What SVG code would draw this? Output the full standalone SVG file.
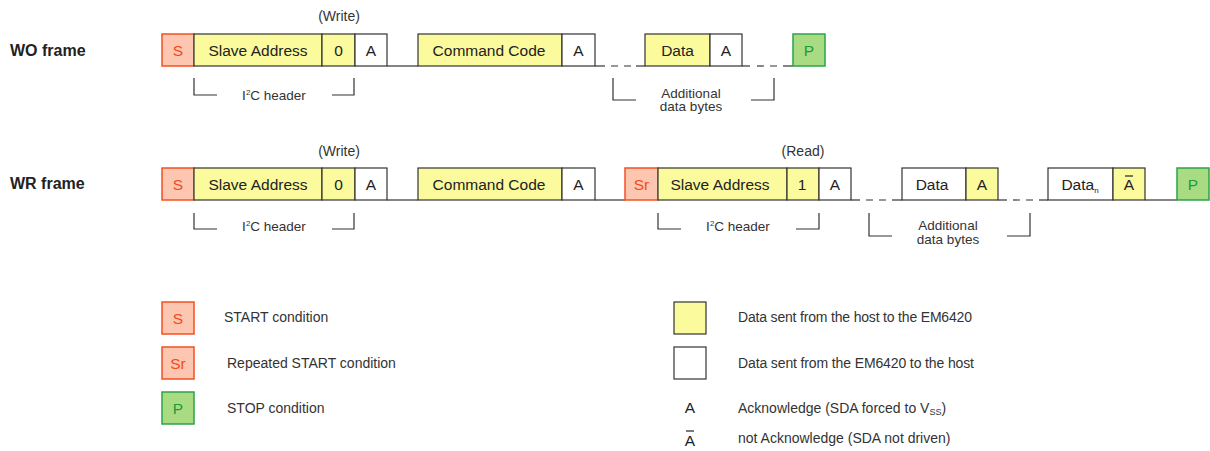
<svg xmlns="http://www.w3.org/2000/svg" width="1210" height="451" viewBox="0 0 1210 451">
<style>
text{font-family:"Liberation Sans",Arial,sans-serif;fill:#222}
.bt{font-size:15.5px;text-anchor:middle}
.lbl{font-size:16px;font-weight:bold;fill:#222}
.note{font-size:13.5px;text-anchor:middle;fill:#333}
.leg{font-size:14px;fill:#333}
.y{fill:#fbfa9c;stroke:#333;stroke-width:1.2}
.w{fill:#fff;stroke:#333;stroke-width:1.2}
.s{fill:#fcc6b0;stroke:#f4501f;stroke-width:1.5}
.p{fill:#a9dc82;stroke:#2aa44a;stroke-width:1.5}
.st{fill:#f24a18}
.pt{fill:#1e9a3c}
.ln{stroke:#333;stroke-width:1.2;fill:none}
.ds{stroke:#333;stroke-width:1.2;fill:none;stroke-dasharray:7 6}
.bar{stroke:#222;stroke-width:1.2}
</style>

<!-- Row labels -->
<g id="label-wo"><text class="lbl" x="10" y="56">WO frame</text></g>
<g id="label-wr"><text class="lbl" x="10" y="189">WR frame</text></g>

<!-- Connectors: bus lines and brackets -->
<g id="connectors">
  <!-- WO -->
  <line class="ln" x1="387" y1="66" x2="418" y2="66"/>
  <line class="ln" x1="595" y1="66" x2="605" y2="66"/>
  <line class="ds" x1="611" y1="66" x2="636" y2="66"/>
  <line class="ln" x1="636" y1="66" x2="645" y2="66"/>
  <line class="ln" x1="742" y1="66" x2="750" y2="66"/>
  <line class="ds" x1="757" y1="66" x2="782" y2="66"/>
  <line class="ln" x1="783" y1="66" x2="793" y2="66"/>
  <path class="ln" d="M194,78 V95 H217 M332,95 H354 V78"/>
  <path class="ln" d="M613,78 V100 H636 M751,100 H774 V78"/>
  <!-- WR -->
  <line class="ln" x1="387" y1="200" x2="418" y2="200"/>
  <line class="ln" x1="595" y1="200" x2="625" y2="200"/>
  <line class="ln" x1="851" y1="200" x2="860" y2="200"/>
  <line class="ds" x1="866" y1="200" x2="891" y2="200"/>
  <line class="ln" x1="892" y1="200" x2="902" y2="200"/>
  <line class="ln" x1="998" y1="200" x2="1007" y2="200"/>
  <line class="ds" x1="1013" y1="200" x2="1038" y2="200"/>
  <line class="ln" x1="1039" y1="200" x2="1048" y2="200"/>
  <line class="ln" x1="1145" y1="200" x2="1177" y2="200"/>
  <path class="ln" d="M194,213 V229 H217 M332,229 H354 V213"/>
  <path class="ln" d="M658,213 V229 H681 M796,229 H819 V213"/>
  <path class="ln" d="M869,213 V236 H892 M1007,236 H1030 V213"/>
</g>

<!-- WO frame nodes -->
<g id="wo-s"><rect class="s" x="162" y="34" width="32" height="32"/><text class="bt st" x="178" y="56">S</text></g>
<g id="wo-addr"><rect class="y" x="194" y="34" width="128" height="32"/><text class="bt" x="258" y="56">Slave Address</text></g>
<g id="wo-rw"><rect class="y" x="322" y="34" width="33" height="32"/><text class="bt" x="338.5" y="56">0</text></g>
<g id="wo-a1"><rect class="w" x="355" y="34" width="32" height="32"/><text class="bt" x="371" y="56">A</text></g>
<g id="wo-cmd"><rect class="y" x="418" y="34" width="144" height="32"/><text class="bt" x="489" y="56">Command Code</text></g>
<g id="wo-a2"><rect class="w" x="562" y="34" width="33" height="32"/><text class="bt" x="578.5" y="56">A</text></g>
<g id="wo-data"><rect class="y" x="645" y="34" width="65" height="32"/><text class="bt" x="677.5" y="56">Data</text></g>
<g id="wo-a3"><rect class="w" x="710" y="34" width="32" height="32"/><text class="bt" x="726" y="56">A</text></g>
<g id="wo-p"><rect class="p" x="793" y="34" width="32" height="32"/><text class="bt pt" x="809" y="56">P</text></g>
<g id="wo-notes">
  <text class="note" x="339" y="21" style="font-size:14px">(Write)</text>
  <text class="note" x="274" y="100">I<tspan dy="-5" font-size="8">2</tspan><tspan dy="5">C header</tspan></text>
  <text class="note" x="691" y="98">Additional</text>
  <text class="note" x="691" y="111">data bytes</text>
</g>

<!-- WR frame nodes -->
<g id="wr-s"><rect class="s" x="162" y="168" width="32" height="32"/><text class="bt st" x="178" y="190">S</text></g>
<g id="wr-addr"><rect class="y" x="194" y="168" width="128" height="32"/><text class="bt" x="258" y="190">Slave Address</text></g>
<g id="wr-rw"><rect class="y" x="322" y="168" width="33" height="32"/><text class="bt" x="338.5" y="190">0</text></g>
<g id="wr-a1"><rect class="w" x="355" y="168" width="32" height="32"/><text class="bt" x="371" y="190">A</text></g>
<g id="wr-cmd"><rect class="y" x="418" y="168" width="144" height="32"/><text class="bt" x="489" y="190">Command Code</text></g>
<g id="wr-a2"><rect class="w" x="562" y="168" width="33" height="32"/><text class="bt" x="578.5" y="190">A</text></g>
<g id="wr-sr"><rect class="s" x="625" y="168" width="33" height="32"/><text class="bt st" x="641.5" y="190">Sr</text></g>
<g id="wr-addr2"><rect class="y" x="658" y="168" width="129" height="32"/><text class="bt" x="720" y="190">Slave Address</text></g>
<g id="wr-rw2"><rect class="y" x="787" y="168" width="32" height="32"/><text class="bt" x="802" y="190">1</text></g>
<g id="wr-a3"><rect class="w" x="819" y="168" width="32" height="32"/><text class="bt" x="835" y="190">A</text></g>
<g id="wr-data"><rect class="w" x="902" y="168" width="64" height="32"/><text class="bt" x="932" y="190">Data</text></g>
<g id="wr-a4"><rect class="y" x="966" y="168" width="32" height="32"/><text class="bt" x="982" y="190">A</text></g>
<g id="wr-datan"><rect class="w" x="1048" y="168" width="65" height="32"/><text class="bt" x="1080" y="190">Data<tspan font-size="8" dy="3">n</tspan></text></g>
<g id="wr-na"><rect class="y" x="1113" y="168" width="32" height="32"/><text class="bt" x="1129" y="190">A</text><line class="bar" x1="1125" y1="176" x2="1133" y2="176"/></g>
<g id="wr-p"><rect class="p" x="1177" y="168" width="32" height="32"/><text class="bt pt" x="1193" y="190">P</text></g>
<g id="wr-notes">
  <text class="note" x="339" y="156" style="font-size:14px">(Write)</text>
  <text class="note" x="803" y="156" style="font-size:14px">(Read)</text>
  <text class="note" x="274" y="231">I<tspan dy="-5" font-size="8">2</tspan><tspan dy="5">C header</tspan></text>
  <text class="note" x="738" y="231">I<tspan dy="-5" font-size="8">2</tspan><tspan dy="5">C header</tspan></text>
  <text class="note" x="948" y="230">Additional</text>
  <text class="note" x="948" y="244">data bytes</text>
</g>

<!-- Legend -->
<g id="legend-s"><rect class="s" x="162" y="302" width="32" height="32"/><text class="bt st" x="178" y="324">S</text><text class="leg" x="224" y="322">START condition</text></g>
<g id="legend-sr"><rect class="s" x="162" y="347" width="32" height="32"/><text class="bt st" x="178" y="369">Sr</text><text class="leg" x="227" y="368">Repeated START condition</text></g>
<g id="legend-p"><rect class="p" x="162" y="392" width="32" height="32"/><text class="bt pt" x="178" y="414">P</text><text class="leg" x="227" y="413">STOP condition</text></g>
<g id="legend-host"><rect class="y" x="674" y="302" width="32" height="32"/><text class="leg" x="738" y="322" textLength="234">Data sent from the host to the EM6420</text></g>
<g id="legend-dev"><rect class="w" x="674" y="347" width="32" height="32"/><text class="leg" x="738" y="368" textLength="236">Data sent from the EM6420 to the host</text></g>
<g id="legend-ack"><text class="bt" x="690" y="413">A</text><text class="leg" x="738" y="413">Acknowledge (SDA forced to V<tspan font-size="9" dy="2">SS</tspan><tspan dy="-2">)</tspan></text></g>
<g id="legend-nack"><text class="bt" x="690" y="446">A</text><line class="bar" x1="686" y1="431" x2="694" y2="431"/><text class="leg" x="738" y="443">not Acknowledge (SDA not driven)</text></g>
</svg>
